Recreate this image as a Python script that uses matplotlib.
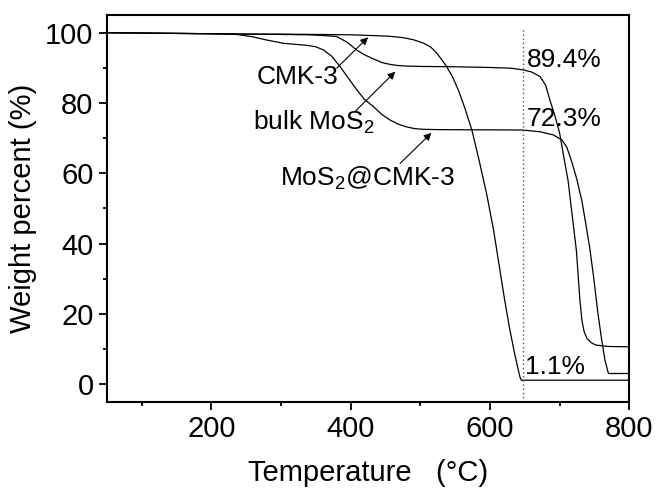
import numpy as np
import matplotlib
matplotlib.use("Agg")
import matplotlib.pyplot as plt
from matplotlib.ticker import MultipleLocator

plt.rcParams['font.family'] = ['Liberation Sans', 'DejaVu Sans']
plt.rcParams['mathtext.fontset'] = 'custom'
plt.rcParams['mathtext.rm'] = 'Liberation Sans'
plt.rcParams['mathtext.it'] = 'Liberation Sans:italic'

# TGA curves (temperature in C, weight in %)
cmk_T = [50, 100, 150, 200, 250, 300, 350, 400, 430, 455, 475, 490, 505, 515,
         524, 532, 538, 546, 555, 564, 574, 584, 595, 605, 613, 621, 628, 635,
         640, 643, 645, 700, 800]
cmk_W = [100, 99.9, 99.8, 99.7, 99.6, 99.6, 99.5, 99.4, 99.2, 99.0, 98.6, 98.0,
         97.0, 95.9, 94.1, 92.0, 90.3, 87.5, 83.5, 78.5, 72.3, 64, 54.3, 44, 34,
         24, 16, 9, 4.5, 2.0, 1.1, 1.1, 1.1]

bulk_T = [50, 100, 150, 200, 250, 300, 340, 360, 380, 395, 409, 420, 432, 445,
          456, 466, 480, 500, 550, 600, 630, 648, 660, 672, 680, 686, 693, 700,
          706, 712, 718, 724, 729, 732, 735, 739, 745, 752, 770, 800]
bulk_W = [100, 99.9, 99.8, 99.7, 99.6, 99.5, 99.4, 99.2, 98.9, 97.3, 95.0, 93.7,
          92.6, 91.5, 91.0, 90.7, 90.5, 90.4, 90.3, 90.1, 89.9, 89.4, 88.8, 87.5,
          85.0, 80.8, 76.5, 71.4, 64.5, 58, 48, 38, 24, 18, 15, 13, 11.8, 11.1,
          10.7, 10.6]

comp_T = [50, 100, 150, 200, 237, 260, 280, 303, 320, 337, 350, 361, 373, 385,
          397, 409, 420, 433, 445, 457, 468, 480, 492, 504, 530, 600, 647, 672,
          691, 703, 710, 715, 720, 725, 732, 738, 743, 749, 755, 760, 765, 768,
          770, 800]
comp_W = [100, 99.9, 99.8, 99.7, 99.5, 98.8, 97.9, 97.0, 96.7, 96.4, 96.0, 95.1,
          93.3, 90.3, 87.0, 83.7, 81.0, 78.9, 76.7, 75.1, 74.0, 73.2, 72.7, 72.5,
          72.4, 72.35, 72.3, 71.8, 70.9, 69.5, 67.5, 64.7, 61.5, 58, 52, 45, 39,
          30, 20, 13, 6.8, 4.5, 3.0, 3.0]

mark_T = 647
residues = ["89.4%", "72.3%", "1.1%"]
residue_pos = [(653, 90.2), (652, 73.4), (650.5, 2.8)]

labels = ["CMK-3", "bulk MoS$_2$", "MoS$_2$@CMK-3"]
label_pos = [(265, 85.3), (260, 72.3), (299, 56.4)]
arrow_tail = [(380, 89.9), (406, 77.5), (471, 62.8)]
arrow_head = [(425, 98.7), (464, 88.9), (516, 71.5)]

fig = plt.figure(figsize=(6.59, 4.88), dpi=100)
ax = fig.add_axes([0.162, 0.177, 0.793, 0.792])

for T, W in [(cmk_T, cmk_W), (bulk_T, bulk_W), (comp_T, comp_W)]:
    ax.plot(T, W, color='k', lw=0.9)

ax.vlines(mark_T, -5, 101.5, colors='#555555', linestyles=(0, (1, 2)), lw=1.0)

for txt, (x, y) in zip(residues, residue_pos):
    ax.text(x, y, txt, fontsize=19, ha='left', va='baseline')

for txt, (x, y), tail, head in zip(labels, label_pos, arrow_tail, arrow_head):
    ax.text(x, y, txt, fontsize=19, ha='left', va='baseline')
    ax.annotate('', xy=head, xytext=tail,
                arrowprops=dict(arrowstyle='-|>', color='k', lw=0.8,
                                mutation_scale=11, shrinkA=0, shrinkB=0))

ax.set_xlim(50, 800)
ax.set_ylim(-5, 105)
ax.xaxis.set_major_locator(MultipleLocator(200))
ax.xaxis.set_minor_locator(MultipleLocator(100))
ax.yaxis.set_major_locator(MultipleLocator(20))
ax.yaxis.set_minor_locator(MultipleLocator(10))
ax.tick_params(which='major', direction='out', length=6, width=1.3,
               labelsize=21, top=False, right=False)
ax.tick_params(which='minor', direction='out', length=3, width=1.3,
               top=False, right=False)
for s in ax.spines.values():
    s.set_linewidth(1.5)

ax.set_xlabel("Temperature   (°C)", fontsize=21, labelpad=12)
ax.set_ylabel("Weight percent (%)", fontsize=21, labelpad=6)

fig.savefig("out.png", dpi=100)
